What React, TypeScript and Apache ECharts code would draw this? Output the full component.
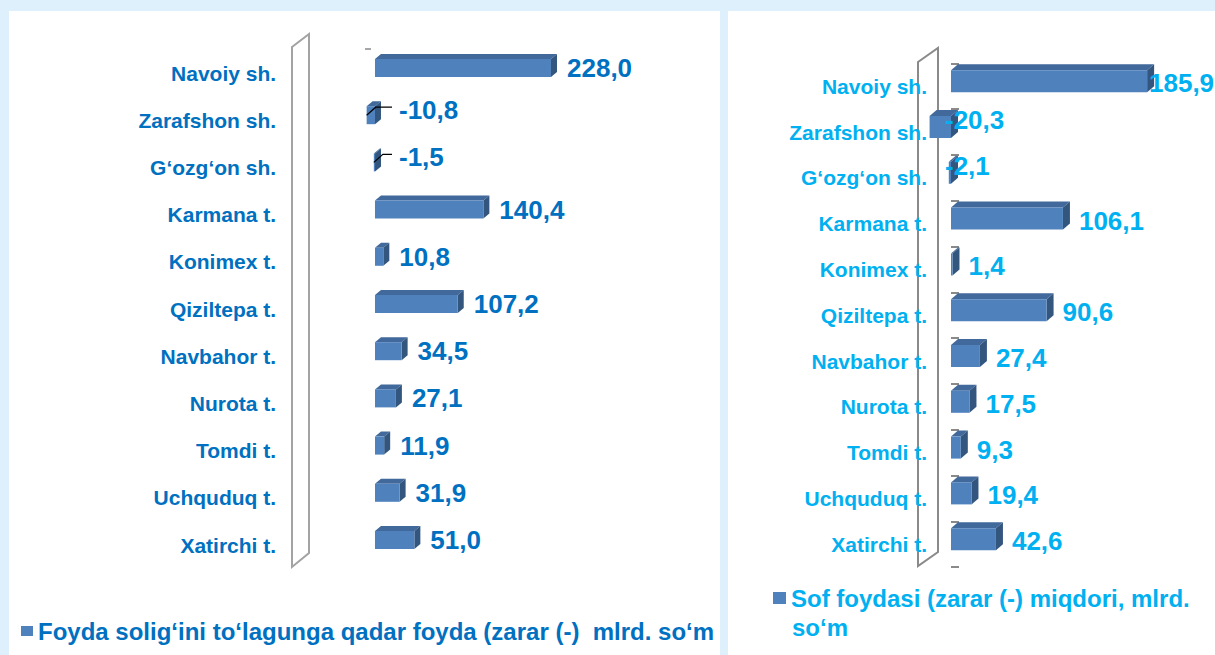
import React, { useEffect, useRef } from 'react';
import * as echarts from 'echarts';

const categories = [
  'Navoiy sh.',
  'Zarafshon sh.',
  'G‘ozg‘on sh.',
  'Karmana t.',
  'Konimex t.',
  'Qiziltepa t.',
  'Navbahor t.',
  'Nurota t.',
  'Tomdi t.',
  'Uchquduq t.',
  'Xatirchi t.',
];
const preTaxProfit = [228.0, -10.8, -1.5, 140.4, 10.8, 107.2, 34.5, 27.1, 11.9, 31.9, 51.0];
const netProfit = [185.9, -20.3, -2.1, 106.1, 1.4, 90.6, 27.4, 17.5, 9.3, 19.4, 42.6];
const leftName = 'Foyda solig‘ini to‘lagunga qadar foyda (zarar (-)  mlrd. so‘m';
const rightName = 'Sof foydasi (zarar (-) miqdori, mlrd. so‘m';
const rightLegendLine1 = 'Sof foydasi (zarar (-) miqdori, mlrd.';
const rightLegendLine2 = 'so‘m';

const FONT = '"Liberation Sans", Arial, Helvetica, sans-serif';
const BAR_FRONT = '#4f81bd';
const BAR_TOP = '#41699b';
const BAR_SIDE = '#33567f';
const DARK_BLUE = '#0070c0';
const CYAN = '#00b0f0';

const fmt = (v: number) => v.toFixed(1).replace('.', ',');

type Cfg = {
  h: number;
  dx: number;
  dy: number;
  shift: number;
  gap: number;
  posDy: number;
  color: string;
  negMode: 'leader' | 'overlap';
};

function bar3D(o: Cfg) {
  return (params: any, api: any) => {
    const v = api.value(0) as number;
    const i = api.value(1) as number;
    const p0 = api.coord([0, i]);
    const p1 = api.coord([v, i]);
    const cy = p0[1] + o.shift;
    const xl = Math.min(p0[0], p1[0]);
    let xr = Math.max(p0[0], p1[0]);
    if (xr - xl < 1.2) xr = xl + 1.2;
    const yt = cy - o.h / 2;
    const yb = cy + o.h / 2;
    const children: any[] = [
      {
        type: 'polygon',
        shape: { points: [[xl, yt], [xr, yt], [xr + o.dx, yt - o.dy], [xl + o.dx, yt - o.dy]] },
        style: { fill: BAR_TOP },
      },
      {
        type: 'polygon',
        shape: { points: [[xr, yt], [xr + o.dx, yt - o.dy], [xr + o.dx, yb - o.dy], [xr, yb]] },
        style: { fill: BAR_SIDE },
      },
      {
        type: 'rect',
        shape: { x: xl, y: yt, width: xr - xl, height: o.h },
        style: { fill: BAR_FRONT },
      },
    ];
    let lx: number;
    let ly: number;
    if (v >= 0) {
      lx = Math.min(xr + o.dx + o.gap, api.getWidth() - 66);
      ly = cy + o.posDy;
    } else if (o.negMode === 'leader') {
      lx = p0[0] + 24;
      ly = cy - 5;
      children.push({
        type: 'polyline',
        shape: { points: [[p1[0], cy], [p1[0] + 9, ly - 3], [lx - 7, ly - 3]] },
        style: { stroke: '#000', lineWidth: 1.2, fill: 'none' },
      });
    } else {
      lx = p0[0] - 6;
      ly = p0[1] - 12;
    }
    children.push({
      type: 'text',
      x: lx,
      y: ly,
      style: {
        text: fmt(v),
        fill: o.color,
        fontSize: 26,
        fontWeight: 'bold',
        fontFamily: FONT,
        align: 'left',
        verticalAlign: 'middle',
      },
    });
    return { type: 'group', children };
  };
}

export default function App() {
  const ref = useRef<HTMLDivElement>(null);
  useEffect(() => {
    if (!ref.current) return;
    const chart = echarts.init(ref.current, null, { renderer: 'svg' });
    const catLabel = (color: string, margin: number) => ({
      fontSize: 21,
      fontWeight: 'bold' as const,
      fontFamily: FONT,
      color,
      margin,
    });
    chart.setOption({
      animation: false,
      backgroundColor: '#dff0fd',
      grid: [
        { left: 344.1, top: 49.4, width: 231.6, height: 519.2, containLabel: false },
        { left: 908.8, top: 63.3, width: 295.4, height: 503.8, containLabel: false },
      ],
      xAxis: [
        { type: 'value', gridIndex: 0, min: -40, max: 260, show: false },
        { type: 'value', gridIndex: 1, min: -40, max: 240, show: false },
      ],
      yAxis: [
        {
          type: 'category',
          gridIndex: 0,
          data: categories,
          inverse: true,
          axisLine: { show: false },
          axisTick: { show: false },
          splitLine: { show: false },
          axisLabel: catLabel(DARK_BLUE, 68),
        },
        {
          type: 'category',
          gridIndex: 1,
          data: categories,
          inverse: true,
          offset: -29.2,
          axisLine: { show: false },
          axisTick: { show: true, inside: true, length: 8, lineStyle: { color: '#8a8a8a', width: 2 } },
          splitLine: { show: false },
          axisLabel: catLabel(CYAN, 11),
        },
      ],
      legend: [
        {
          data: [leftName],
          left: 21,
          top: 619,
          padding: 0,
          icon: 'rect',
          itemWidth: 12,
          itemHeight: 10,
          selectedMode: false,
          textStyle: { fontSize: 24, fontWeight: 'bold', fontFamily: FONT, color: DARK_BLUE },
        },
        {
          data: [rightName],
          left: 773,
          top: 586,
          padding: 0,
          icon: 'rect',
          itemWidth: 13,
          itemHeight: 12,
          selectedMode: false,
          formatter: () => rightLegendLine1,
          textStyle: { fontSize: 24, fontWeight: 'bold', fontFamily: FONT, color: CYAN },
        },
      ],
      graphic: [
        { type: 'rect', z: -20, shape: { x: 9, y: 11, width: 711, height: 644 }, style: { fill: '#ffffff' } },
        { type: 'rect', z: -20, shape: { x: 728, y: 11, width: 487, height: 644 }, style: { fill: '#ffffff' } },
        {
          type: 'polygon',
          z: -10,
          shape: { points: [[292, 47], [309, 34], [309, 553], [292, 567]] },
          style: { fill: '#ffffff', stroke: '#a3a3a3', lineWidth: 2 },
        },
        {
          type: 'line',
          z: -10,
          shape: { x1: 365, y1: 49, x2: 371, y2: 49 },
          style: { stroke: '#8a8a8a', lineWidth: 1.5 },
        },
        {
          type: 'polygon',
          z: -10,
          shape: { points: [[918, 62], [938, 48], [938, 552], [918, 566]] },
          style: { fill: '#ffffff', stroke: '#8a8a8a', lineWidth: 2 },
        },
        {
          type: 'text',
          z: 5,
          x: 792,
          y: 627,
          style: {
            text: rightLegendLine2,
            fill: CYAN,
            fontSize: 24,
            fontWeight: 'bold',
            fontFamily: FONT,
            align: 'left',
            verticalAlign: 'middle',
          },
        },
      ],
      series: [
        {
          name: leftName,
          type: 'custom',
          xAxisIndex: 0,
          yAxisIndex: 0,
          clip: false,
          itemStyle: { color: BAR_FRONT },
          encode: { x: 0, y: 1 },
          data: preTaxProfit.map((v, i) => [v, i]),
          renderItem: bar3D({ h: 18, dx: 6, dy: 5, shift: -5, gap: 10, posDy: 0, color: DARK_BLUE, negMode: 'leader' }),
        },
        {
          name: rightName,
          type: 'custom',
          xAxisIndex: 1,
          yAxisIndex: 1,
          clip: false,
          itemStyle: { color: BAR_FRONT },
          encode: { x: 0, y: 1 },
          data: netProfit.map((v, i) => [v, i]),
          renderItem: bar3D({ h: 22, dx: 7, dy: 6, shift: -5, gap: 9, posDy: 2, color: CYAN, negMode: 'overlap' }),
        },
      ],
    });
    return () => chart.dispose();
  }, []);
  return (
    <div
      ref={ref}
      style={{ position: 'absolute', left: 0, top: 0, width: 1215, height: 655 }}
    />
  );
}
